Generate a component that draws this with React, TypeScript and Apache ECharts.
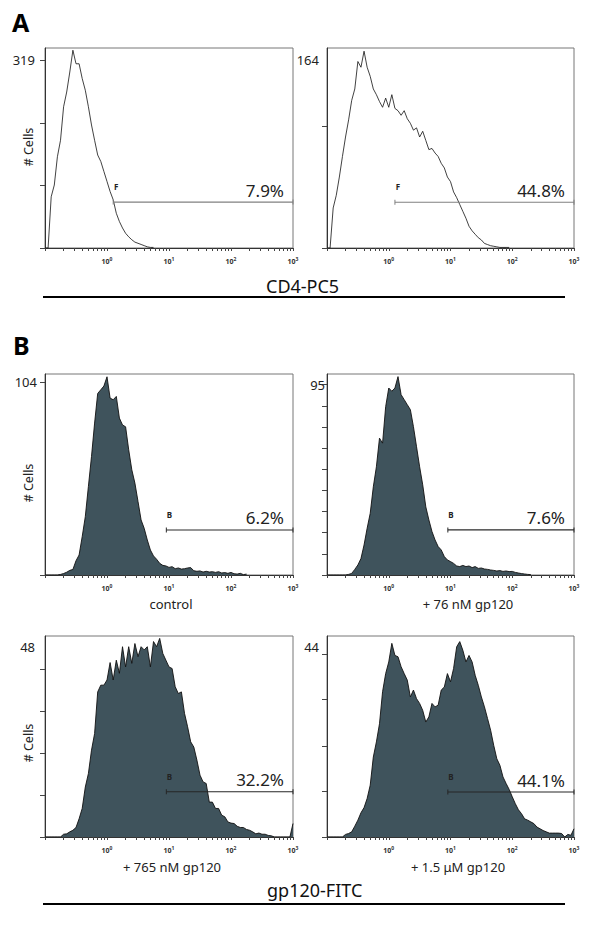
import React, { useEffect, useRef } from "react";
import * as echarts from "echarts";

// ---------- data (counts per log-channel; 20 channels per decade, from 10^-1 to 10^3) ----------
const LOG_MIN = -1;
const LOG_MAX = 3;
const CHANNELS_PER_DECADE = 20;
const DECADE_EXPONENTS = [0, 1, 2, 3];

const A_LEFT_COUNTS = [0, 0, 87, 107, 155, 183, 240, 265, 299, 336, 313, 313, 288, 268, 240, 209, 183, 158, 147, 130, 113, 96, 82, 59, 45, 34, 25, 19, 14, 10, 8, 6, 4, 2, 1, 1];
const A_RIGHT_COUNTS = [0, 0, 35, 46, 62, 80, 97, 112, 129, 139, 163, 158, 172, 158, 150, 139, 134, 128, 123, 131, 123, 134, 122, 120, 116, 120, 113, 109, 103, 105, 97, 102, 94, 86, 87, 83, 80, 74, 70, 62, 58, 49, 44, 38, 32, 26, 19, 15, 12, 9, 7, 4, 3, 2, 1.5, 1, 0.5, 0.5, 0.5, 0.5];
const B_CONTROL_COUNTS = [0, 0, 0, 0, 0, 0.3, 0.8, 1.5, 2.5, 3, 7.7, 10.8, 20.7, 31.5, 47.8, 64, 82, 98, 100, 102, 107, 95.5, 94.6, 96.4, 84.7, 81, 80, 67.6, 56.8, 49.6, 39.7, 29.7, 25.2, 18.9, 13.5, 10.3, 8.5, 6.3, 5.2, 4.9, 4.1, 4.5, 3.4, 3.8, 3.2, 3.4, 3.8, 4, 2.3, 2, 2.2, 1.6, 2, 1.6, 1.8, 1.4, 1.8, 1.1, 1.3, 0.9, 1.4, 0.7, 0.5, 0.9, 0.2, 0.5];
const B_76NM_COUNTS = [0, 0, 0, 0, 0, 0, 0, 0.3, 0.8, 2.8, 5, 8.2, 15, 23.3, 30.8, 44, 54, 68.3, 65.8, 84, 93.3, 91.7, 93.3, 99, 90, 87.5, 85, 82.5, 74, 64, 54, 45, 34, 27.5, 21.7, 17.5, 14.2, 12.5, 9.2, 7.5, 6.7, 5.8, 4.5, 4.2, 4.8, 4.2, 4.5, 3.7, 4.2, 3.3, 3.5, 3, 2.8, 2.5, 2.3, 2, 2.2, 1.8, 2, 1.7, 1.8, 1.3, 1, 0.7, 0.5, 0.3, 0.2];
const B_765NM_COUNTS = [0, 0, 0, 0, 0, 0, 0.7, 0.8, 1.3, 1.7, 2.4, 4.6, 7.2, 12.6, 16, 21.9, 26.1, 36.6, 38.3, 38.3, 39.6, 44, 39.6, 44.6, 41.3, 48, 42.9, 48, 43.8, 48.8, 45.5, 48, 47.2, 48, 42.9, 49.3, 48, 50.1, 46.3, 44.6, 42.9, 42.5, 37.9, 36.2, 36.6, 31.2, 27.8, 24, 22.7, 19.4, 15.6, 13.9, 13.5, 8.8, 8.8, 7.2, 7.2, 5.5, 5.1, 3.8, 3.5, 3.4, 2.7, 2.4, 2.4, 1.9, 1.7, 1.3, 0.8, 1, 0.7, 0.7, 0.4, 0.3, 0, 0, 0, 0, 0, 0, 3.4];
const B_1_5UM_COUNTS = [0, 0, 0, 0, 0, 0, 0.6, 0.8, 1.2, 2.5, 3.9, 5.6, 6.8, 8.9, 12, 18.5, 22, 26.2, 33.6, 37.8, 40.5, 44.8, 42, 41.7, 39.4, 37.8, 36.3, 32.4, 34, 32, 30.9, 29.3, 26.6, 27.8, 30.9, 30.1, 30.5, 34, 34.7, 37.8, 35.9, 39, 44, 45.2, 43.2, 40.5, 42, 40.5, 37.4, 35.1, 32.4, 30.1, 27.4, 24.7, 21.2, 18.1, 16.6, 13.9, 12.4, 11, 9.3, 7.7, 6.3, 5.4, 4.2, 3.9, 3.5, 3.1, 2.3, 1.9, 1.5, 1.2, 0.9, 0.9, 0.9, 0.9, 0.8, 0, 0.6, 0.4, 1.9];

// y axes: top of box, labelled maximum, tick values
const Y_AXIS_MAX = [339.8, 174.8, 108.5, 100.3, 50.7, 46.5];
const Y_MAX_LABELS = [319, 164, 104, 95, 48, 44];
const Y_TICKS = [
  [0, 106.3, 212.7, 319],
  [0, 106.5],
  [0, 104],
  [0, 10.56, 21.11, 31.67, 42.22, 52.78, 63.33, 73.89, 84.44, 95],
  [0, 10.6, 21.2, 31.8, 42.4],
  [0, 10.6, 21.1, 31.8, 42.2],
];

// gates: name, start (log10), level (count), percent
const GATE_NAMES = ["F", "F", "B", "B", "B", "B"];
const GATE_START_LOG = [0.1, 0.1, 0.957, 0.957, 0.957, 0.957];
const GATE_LEVELS = [78, 40, 24.3, 22.5, 11.4, 10.4];
const GATE_PERCENTS = ["7.9%", "44.8%", "6.2%", "7.6%", "32.2%", "44.1%"];

const SAMPLE_LABELS = ["", "", "control", "+ 76 nM gp120", "+ 765 nM gp120", "+ 1.5 μM gp120"];
const MARKER_TITLES = ["CD4-PC5", "gp120-FITC"];
const PANEL_LETTERS = ["A", "B"];
const Y_TITLE = "# Cells";

const COUNTS = [A_LEFT_COUNTS, A_RIGHT_COUNTS, B_CONTROL_COUNTS, B_76NM_COUNTS, B_765NM_COUNTS, B_1_5UM_COUNTS];

// ---------- layout ----------
const GRIDS = [
  { left: 45, top: 48, width: 248, height: 200 },
  { left: 327, top: 48, width: 247, height: 200 },
  { left: 45, top: 374, width: 248, height: 201 },
  { left: 327, top: 374, width: 247, height: 201 },
  { left: 45, top: 636, width: 248, height: 201 },
  { left: 327, top: 636, width: 247, height: 201 },
];
const Y_LABEL_MARGIN = [10, 8, 8, 2, 10, 8];
const FILLED = [false, false, true, true, true, true];
const GATE_COLORS = ["#808080", "#808080", "#2a2a2a", "#2a2a2a", "#262626", "#262626"];
const SAMPLE_LABEL_POS = [null, null, [171, 604], [468, 604], [172, 867], [458, 867]];
const FONT = "'Noto Sans', 'Open Sans', sans-serif";

const X_MINOR_TICKS: number[] = [];
for (let d = LOG_MIN; d < LOG_MAX; d++) {
  for (let k = 1; k <= 9; k++) X_MINOR_TICKS.push(d + Math.log10(k));
}
X_MINOR_TICKS.push(LOG_MAX);

export default function App() {
  const ref = useRef<HTMLDivElement>(null);

  useEffect(() => {
    if (!ref.current) return;
    const chart = echarts.init(ref.current, undefined, { renderer: "svg" });

    const grid = GRIDS.map((g) => ({
      ...g,
      show: true,
      borderColor: "#777",
      borderWidth: 1,
      containLabel: false,
    }));

    const xAxis = GRIDS.map((_, i) => ({
      type: "value",
      gridIndex: i,
      min: LOG_MIN,
      max: LOG_MAX,
      splitLine: { show: false },
      axisLine: { show: true, onZero: false, lineStyle: { color: "#333", width: 1 } },
      axisTick: {
        show: true,
        customValues: X_MINOR_TICKS,
        length: 3,
        inside: false,
        lineStyle: { color: "#444", width: 1 },
      },
      axisLabel: {
        show: true,
        customValues: DECADE_EXPONENTS,
        margin: 8,
        formatter: (v: number) => `{b|10}{s|${v}}`,
        rich: {
          b: { fontSize: 7, fontWeight: "bold", fontFamily: FONT, color: "#333", lineHeight: 9, verticalAlign: "bottom" },
          s: { fontSize: 5, fontWeight: "bold", fontFamily: FONT, color: "#333", lineHeight: 9, verticalAlign: "top", padding: [0, 0, 3, 0] },
        },
      },
    }));

    const yAxis = GRIDS.map((_, i) => ({
      type: "value",
      gridIndex: i,
      min: 0,
      max: Y_AXIS_MAX[i],
      splitLine: { show: false },
      axisLine: { show: true, onZero: false, lineStyle: { color: "#333", width: 1 } },
      axisTick: {
        show: true,
        customValues: Y_TICKS[i],
        length: 5,
        inside: false,
        lineStyle: { color: "#444", width: 1 },
      },
      axisLabel: {
        show: true,
        customValues: [Y_MAX_LABELS[i]],
        margin: Y_LABEL_MARGIN[i],
        fontSize: 13,
        fontFamily: FONT,
        color: "#222",
      },
    }));

    const series: any[] = [];
    COUNTS.forEach((counts, i) => {
      const data = counts.map((c, ch) => [LOG_MIN + ch / CHANNELS_PER_DECADE, c]);
      series.push({
        type: "line",
        xAxisIndex: i,
        yAxisIndex: i,
        data,
        showSymbol: false,
        symbol: "none",
        lineStyle: { color: "#111", width: FILLED[i] ? 0.9 : 0.8 },
        areaStyle: FILLED[i] ? { color: "#3f535c", opacity: 1 } : undefined,
        z: 2,
        silent: true,
      });
      const gateColor = GATE_COLORS[i];
      series.push({
        type: "line",
        xAxisIndex: i,
        yAxisIndex: i,
        z: 4,
        symbol: "rect",
        symbolSize: [1, 5],
        showSymbol: true,
        itemStyle: { color: gateColor },
        lineStyle: { color: gateColor, width: 1.1 },
        data: [
          {
            value: [GATE_START_LOG[i], GATE_LEVELS[i]],
            label: {
              show: true,
              position: "top",
              distance: 9,
              offset: [3, 0],
              formatter: GATE_NAMES[i],
              fontSize: 8,
              fontWeight: "bold",
              fontFamily: FONT,
              color: "#222",
            },
          },
          {
            value: [LOG_MAX, GATE_LEVELS[i]],
            label: {
              show: true,
              position: "top",
              align: "right",
              distance: 1,
              offset: [-9, 0],
              formatter: GATE_PERCENTS[i],
              fontSize: 17,
              fontFamily: FONT,
              color: "#222",
            },
          },
        ],
      });
    });

    const graphic: any[] = [
      { type: "text", left: 12, top: 9, style: { text: PANEL_LETTERS[0], font: `bold 25px ${FONT}`, fill: "#000" } },
      { type: "text", left: 13, top: 332, style: { text: PANEL_LETTERS[1], font: `bold 25px ${FONT}`, fill: "#000" } },
      {
        type: "text",
        x: 28,
        y: 147,
        rotation: Math.PI / 2,
        style: { text: Y_TITLE, font: `12.5px ${FONT}`, fill: "#222", align: "center", verticalAlign: "middle" },
      },
      {
        type: "text",
        x: 28,
        y: 483,
        rotation: Math.PI / 2,
        style: { text: Y_TITLE, font: `12.5px ${FONT}`, fill: "#222", align: "center", verticalAlign: "middle" },
      },
      {
        type: "text",
        x: 28,
        y: 743,
        rotation: Math.PI / 2,
        style: { text: Y_TITLE, font: `12.5px ${FONT}`, fill: "#222", align: "center", verticalAlign: "middle" },
      },
      {
        type: "text",
        x: 266,
        y: 286,
        style: { text: MARKER_TITLES[0], font: `18px ${FONT}`, fill: "#111", align: "left", verticalAlign: "middle" },
      },
      { type: "line", shape: { x1: 43, y1: 297, x2: 565, y2: 297 }, style: { stroke: "#000", lineWidth: 2 } },
      {
        type: "text",
        x: 267,
        y: 890,
        style: { text: MARKER_TITLES[1], font: `18px ${FONT}`, fill: "#111", align: "left", verticalAlign: "middle" },
      },
      { type: "line", shape: { x1: 43, y1: 904, x2: 565, y2: 904 }, style: { stroke: "#000", lineWidth: 2 } },
    ];
    SAMPLE_LABELS.forEach((t, i) => {
      const p = SAMPLE_LABEL_POS[i];
      if (!t || !p) return;
      graphic.push({
        type: "text",
        x: p[0],
        y: p[1],
        style: { text: t, font: `13px ${FONT}`, fill: "#222", align: "center", verticalAlign: "middle" },
      });
    });

    chart.setOption({
      animation: false,
      backgroundColor: "#fff",
      grid,
      xAxis,
      yAxis,
      series,
      graphic,
    });

    return () => chart.dispose();
  }, []);

  return <div ref={ref} style={{ position: "absolute", left: 0, top: 0, width: 600, height: 930 }} />;
}
